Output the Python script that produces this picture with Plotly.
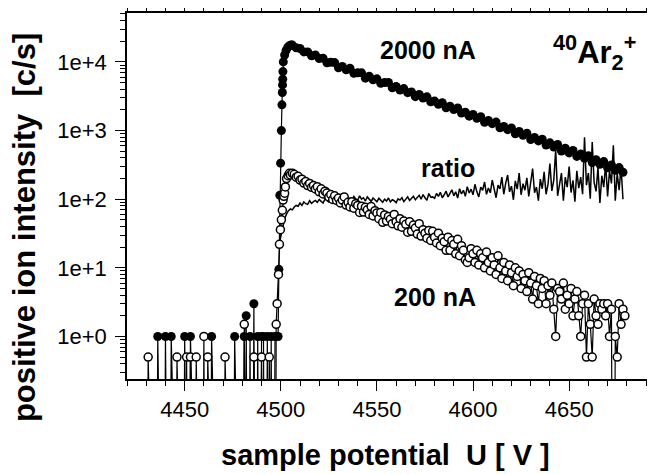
import plotly.graph_objects as go

FONT = "Liberation Sans, Arial, Helvetica, sans-serif"
ZERO_FLOOR = 1e-6  # zero counts sit below the axis, so the line drops to the bottom

# sample potential U [V] and intensities [c/s]
u_low = list(range(4428, 4498))
i2000_low = [0, 0, 0, 0, 0, 0, 0, 0, 1, 0,
             0, 0, 1, 0, 0, 1, 0, 0, 0, 0,
             0, 0, 1, 0, 0, 1, 0, 0, 0, 0,
             0, 0, 0, 0, 0, 0, 1, 0, 0, 0,
             0, 0, 0, 0, 0, 0, 0, 0, 1, 0,
             0, 0, 0, 1, 2, 0, 1, 0, 3, 0,
             1, 0, 1, 1, 0, 1, 0, 1, 0, 1]
i200_low = [0, 0, 0, 0.5, 0, 0, 0, 0, 0, 0,
            0, 0, 0, 0, 0, 0, 0, 0, 0.5, 0,
            0, 0, 0, 0.5, 0, 0.5, 0, 0, 0.5, 0,
            0, 0, 1, 0, 0.5, 0, 0, 0, 0, 0,
            0, 0, 0, 0.5, 0, 0, 0, 0, 0, 0,
            0, 0, 0, 1.5, 0, 0, 0, 0, 0.5, 0,
            0, 0, 0.5, 0, 0, 0, 0.5, 0, 0, 0]

u_rise_2000 = [4498.6, 4499.0, 4499.5, 4499.9, 4500.3, 4500.6, 4500.8, 4500.9,
               4501.0, 4501.1, 4501.3, 4502.0, 4502.8, 4503.6, 4504.5, 4505.3]
i2000_rise = [1, 9.5, 114, 335, 1000, 2370, 3580, 4630,
              5600, 7230, 10000, 12600, 14800, 16300, 17200, 17700]

u_decay_2000 = list(range(4506, 4680, 2))
i2000_decay = [17600, 16100, 15700, 14000, 14000, 12300, 12600, 11200, 11350, 9720,
               9900, 9780, 8240, 8610, 7700, 8100, 6850, 6940, 6940, 5800,
               6180, 5490, 5670, 4880, 5000, 5010, 4190, 4380, 3890, 4090,
               3570, 3650, 3120, 3350, 2980, 3100, 2630, 2690, 2410, 2540,
               2150, 2270, 2020, 2140, 1800, 1850, 1620, 1720, 1510, 1590,
               1320, 1400, 1260, 1330, 1100, 1150, 1030, 1090, 900, 970,
               855, 915, 738, 795, 706, 750, 616, 663, 577, 626,
               503, 552, 473, 512, 420, 454, 395, 431, 343, 377,
               323, 353, 287, 315, 264, 289, 247]

u_rise_200 = [4497.6, 4498.1, 4498.8, 4499.3, 4499.8, 4500.3, 4500.8,
              4501.2, 4501.6, 4502.0, 4502.4, 4503.0, 4503.8, 4504.5]
i200_rise = [1.5, 3, 8, 22, 36, 50, 69, 97, 110, 122, 151, 200, 220, 238]

u_decay_200 = list(range(4505, 4680))
i200_decay = [226, 238, 230, 209, 216,
              190, 196, 172, 181, 158, 170, 149, 158, 141, 152,
              128, 142, 119, 131, 123, 108, 117, 99, 112, 96,
              104, 88, 97, 108, 82, 90, 77, 92, 74, 86,
              81, 64, 79, 65, 76, 70, 60, 78, 57, 68,
              63, 52, 64, 46, 59, 48, 56, 51, 44, 60,
              47, 41, 52, 39, 48, 43, 33, 47, 34, 42,
              38, 31, 44, 29, 36, 32, 27, 35, 25, 34,
              28, 23, 32, 21, 27, 24, 18, 28, 18, 25,
              22, 16, 26, 15, 21, 18, 13, 12, 14, 19,
              16, 12, 18, 11, 16, 14, 10, 17, 12, 9,
              14, 11, 8, 15, 10, 7, 12, 9, 6.5, 11,
              8.5, 5.5, 10, 7.5, 9, 5, 8, 6.5, 4.5, 8.5,
              6, 3.5, 7.5, 5.5, 3, 7, 5, 6.5, 3, 5.5,
              4, 6, 2.5, 1, 5, 4.5, 3.5, 6, 2.5, 4,
              3, 5, 2, 3.5, 4.5, 2, 1, 3, 4, 0.5,
              3, 1.5, 0.5, 3.5, 2, 1.5, 3, 2.5, 3, 2,
              3, 1, 2.5, 0, 1, 0.5, 3, 1.5, 2.5, 2]

u_ratio = list(range(4499, 4679))
ratio = [21, 28, 40, 52, 61, 68, 72, 70, 77, 81,
         79, 88, 81, 91, 86, 84, 95, 87, 92, 96,
         90, 99, 93, 88, 101, 95, 91, 104, 96, 92,
         102, 96, 107, 94, 99, 108, 97, 103, 95, 110,
         101, 96, 112, 100, 105, 94, 108, 99, 93, 104,
         97, 92, 103, 96, 90, 100, 94, 104, 91, 98,
         95, 89, 101, 97, 105, 92, 99, 108, 96, 103,
         110, 98, 106, 114, 100, 117, 105, 96, 121, 107,
         108, 103, 121, 110, 126, 105, 116, 131, 108, 122,
         137, 112, 128, 104, 142, 119, 135, 110, 152, 123,
         140, 116, 165, 128, 108, 150, 135, 178, 118, 146,
         124, 190, 132, 105, 160, 141, 210, 118, 172, 225,
         128, 155, 98, 185, 140, 240, 116, 168, 135, 205,
         110, 178, 280, 124, 150, 95, 196, 142, 250, 118,
         165, 330, 132, 190, 520, 112, 175, 240, 95, 210,
         150, 300, 125, 188, 92, 260, 145, 210, 118, 800,
         160, 240, 102, 680, 175, 130, 290, 88, 220, 150,
         330, 110, 260, 170, 610, 95, 240, 135, 300, 100]

x_ticks = [4450, 4500, 4550, 4600, 4650]
y_ticks = [1, 10, 100, 1000, 10000]
y_ticktext = ["1e+0", "1e+1", "1e+2", "1e+3", "1e+4"]


def floor0(vals):
    return [v if v > 0 else ZERO_FLOOR for v in vals]


fig = go.Figure()
fig.add_trace(go.Scatter(
    x=u_low + u_rise_2000 + u_decay_2000,
    y=floor0(i2000_low + i2000_rise + i2000_decay),
    mode="lines+markers", name="2000 nA",
    line=dict(color="black", width=1.2),
    marker=dict(symbol="circle", size=9, color="black"),
))
fig.add_trace(go.Scatter(
    x=u_ratio, y=ratio, mode="lines", name="ratio",
    line=dict(color="black", width=1.5),
))
fig.add_trace(go.Scatter(
    x=u_low + u_rise_200 + u_decay_200,
    y=floor0(i200_low + i200_rise + i200_decay),
    mode="lines+markers", name="200 nA",
    line=dict(color="black", width=1.2),
    marker=dict(symbol="circle", size=8, color="white", line=dict(color="black", width=1.5)),
))

axis_common = dict(
    showline=True, linecolor="black", linewidth=1.5, mirror="allticks",
    ticks="outside", tickcolor="black", tickwidth=1.3, ticklen=10,
    showgrid=False, zeroline=False, automargin=False,
    tickfont=dict(family=FONT, size=22, color="black"),
)
fig.update_xaxes(
    range=[4420, 4690.5], tickvals=x_ticks,
    minor=dict(dtick=10, tick0=4420, ticks="outside", ticklen=5, tickcolor="black", tickwidth=1, showgrid=False),
    **axis_common,
)
minor_y = [m * 10 ** k for k in range(-1, 5) for m in range(2, 10)]
fig.update_yaxes(
    type="log", range=[-0.62, 4.713], tickvals=y_ticks, ticktext=y_ticktext,
    ticklabelstandoff=4,
    minor=dict(tickvals=minor_y, ticks="outside", ticklen=5, tickcolor="black", tickwidth=1, showgrid=False),
    **axis_common,
)


def label(x, y, text, size, **kw):
    fig.add_annotation(x=x, y=y, xref="paper", yref="paper", text=text, showarrow=False,
                       xanchor=kw.pop("xanchor", "center"), yanchor="middle",
                       font=dict(family=FONT, size=size, color="black", weight="bold"), **kw)


label(0.579, 0.899, "2000 nA", 25)
label(0.617, 0.5765, "ratio", 25)
label(0.592, 0.224, "200 nA", 25)
label(0.983, 0.893, "<sup>40</sup>Ar<sub>2</sub><sup>+</sup>", 31, xanchor="right")
label(0.498, -0.2077, "sample potential\u00a0\u00a0U [ V ]", 29)
label(-0.196, 0.4126, "positive ion intensity\u00a0\u00a0[c/s]", 31, textangle=-90)

# the page body adds an 8 px offset, so the figure is 8 px smaller on each side
fig.update_layout(
    width=647, height=466,
    margin=dict(l=119, r=8, t=5, b=95, autoexpand=False),
    plot_bgcolor="white", paper_bgcolor="white",
    showlegend=False,
)
fig.write_html("out.html")
